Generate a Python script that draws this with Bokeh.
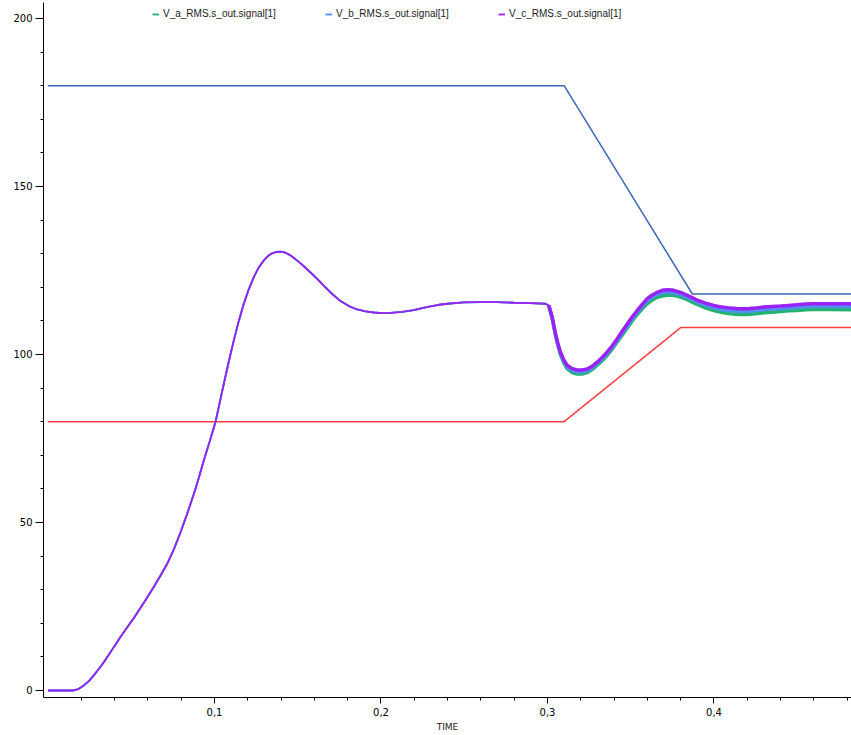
from bokeh.plotting import figure
from bokeh.models import Range1d, FixedTicker, Legend, LegendItem
from bokeh.embed import file_html
from bokeh.resources import INLINE

# Start-up transient, identical on all three phases (time in s, RMS voltage)
rise_time = [0.0, 0.0155, 0.0185, 0.0215, 0.0245, 0.0275, 0.0305, 0.0335, 0.0365, 0.0395,
             0.0435, 0.0476, 0.0516, 0.0556, 0.0595, 0.0635, 0.0676, 0.0716, 0.0756, 0.0796,
             0.0836, 0.0876, 0.0906, 0.0936, 0.0971, 0.1006, 0.1031, 0.1056, 0.1086, 0.1116,
             0.1146, 0.1176, 0.1206, 0.1236, 0.1266, 0.1296, 0.1321, 0.1346, 0.1371, 0.1396,
             0.1426, 0.1456, 0.1486, 0.1517, 0.1547, 0.1577, 0.1617, 0.1656, 0.1707, 0.1757,
             0.1807, 0.1857, 0.1907, 0.1957, 0.2007, 0.2057, 0.2127, 0.2197, 0.2247, 0.2297,
             0.2348, 0.2398, 0.2497, 0.2598, 0.2698, 0.2798, 0.2898, 0.2988]
rise_v = [0.0, 0.0, 0.5, 1.5, 2.8, 4.5, 6.4, 8.4, 10.6, 12.9,
          15.9, 18.8, 21.6, 24.6, 27.6, 30.8, 34.2, 37.7, 42.0, 47.1,
          52.6, 58.5, 63.3, 68.5, 74.1, 79.9, 85.6, 91.3, 97.9, 104.2,
          110.0, 115.1, 119.4, 123.0, 125.9, 128.0, 129.3, 130.1, 130.5, 130.6,
          130.3, 129.5, 128.4, 127.1, 125.8, 124.4, 122.5, 120.5, 118.0, 115.9,
          114.4, 113.4, 112.8, 112.5, 112.3, 112.4, 112.7, 113.2, 113.8, 114.3,
          114.8, 115.1, 115.5, 115.6, 115.6, 115.4, 115.3, 115.1]

# Response to the load step, per phase
step_time = [0.3008, 0.3028, 0.3048, 0.3063, 0.3078, 0.3098, 0.3118, 0.3148, 0.3178, 0.3208,
             0.3238, 0.3268, 0.3298, 0.3328, 0.3358, 0.3389, 0.3419, 0.3449, 0.3479, 0.3509,
             0.3539, 0.3569, 0.3599, 0.3629, 0.3659, 0.3689, 0.3719, 0.3749, 0.3779, 0.3809,
             0.3839, 0.3869, 0.3899, 0.3949, 0.3999, 0.4049, 0.4099, 0.4149, 0.4199, 0.4249,
             0.4299, 0.4349, 0.4399, 0.4449, 0.4499, 0.4549, 0.4599, 0.4699, 0.4850]
step_v_a = [114.5, 110.8, 105.7, 102.6, 100.0, 97.5, 95.8, 94.6, 94.2, 94.2,
            94.6, 95.5, 96.8, 98.1, 99.7, 101.6, 103.7, 105.8, 107.9, 110.0,
            111.9, 113.6, 115.1, 116.2, 117.0, 117.4, 117.6, 117.6, 117.4, 116.9,
            116.3, 115.6, 114.9, 113.9, 113.1, 112.5, 112.1, 111.9, 111.9, 112.1,
            112.4, 112.6, 112.8, 113.0, 113.1, 113.3, 113.4, 113.4, 113.3]
step_v_b = [114.55, 111.0, 106.0, 102.9, 100.4, 98.0, 96.3, 95.2, 94.8, 94.8,
            95.2, 96.0, 97.3, 98.6, 100.2, 102.1, 104.2, 106.4, 108.5, 110.6,
            112.5, 114.3, 115.9, 117.0, 117.8, 118.3, 118.5, 118.4, 118.1, 117.6,
            117.0, 116.3, 115.6, 114.6, 113.9, 113.3, 113.0, 112.8, 112.8, 113.0,
            113.3, 113.5, 113.6, 113.8, 114.0, 114.2, 114.3, 114.3, 114.2]
step_v_c = [114.6, 111.1, 106.2, 103.2, 100.7, 98.4, 96.8, 95.8, 95.4, 95.4,
            95.7, 96.5, 97.7, 99.1, 100.7, 102.6, 104.7, 106.9, 109.1, 111.2,
            113.1, 114.9, 116.6, 117.7, 118.5, 119.1, 119.3, 119.2, 118.8, 118.3,
            117.6, 116.9, 116.2, 115.3, 114.6, 114.1, 113.8, 113.6, 113.6, 113.8,
            114.1, 114.3, 114.4, 114.6, 114.8, 115.0, 115.1, 115.1, 115.1]

# Voltage limit envelopes
upper_time = [0.0, 0.31, 0.387, 0.485]
upper_limit = [180, 180, 118, 118]
lower_time = [0.0, 0.31, 0.38, 0.485]
lower_limit = [80, 80, 108, 108]

series_names = ["V_a_RMS.s_out.signal[1]", "V_b_RMS.s_out.signal[1]", "V_c_RMS.s_out.signal[1]"]
series_colors = ["#22b46e", "#4f8ff0", "#9b22f4"]

x_major = [0.1, 0.2, 0.3, 0.4]
x_labels = ["0,1", "0,2", "0,3", "0,4"]
x_minor = [round(0.02 * i, 2) for i in range(1, 25)]
y_major = [0, 50, 100, 150, 200]
y_minor = list(range(0, 201, 10))

p = figure(width=851, height=735, output_backend="svg", toolbar_location=None,
           x_range=Range1d(-0.0027, 0.4826), y_range=Range1d(-2.09, 204.76),
           min_border_left=43, min_border_right=0, min_border_top=2, min_border_bottom=38)
p.grid.visible = False
p.outline_line_color = None
p.background_fill_color = "white"
p.border_fill_color = "white"

p.line(upper_time, upper_limit, line_color="#3b68b4", line_width=1.5)
p.line(lower_time, lower_limit, line_color="#ff4040", line_width=1.5)

time = rise_time + step_time
legend_items = []
for name, step_v, col in zip(series_names, [step_v_a, step_v_b, step_v_c], series_colors):
    vals = rise_v + step_v
    # the rippled signal after the step reads as a wider band
    p.line(step_time, step_v, line_color=col, line_width=3.5)
    r = p.line(time, vals, line_color=col, line_width=1.8)
    legend_items.append(LegendItem(label=name, renderers=[r]))

legend = Legend(items=legend_items, orientation="horizontal", location=(109, 678),
                glyph_width=7, glyph_height=10, label_standoff=4, label_width=162,
                label_height=10, spacing=0, padding=0, margin=0,
                border_line_color=None, background_fill_alpha=0,
                label_text_font="Liberation Sans", label_text_font_size="10px",
                label_text_color="#222222")
p.add_layout(legend)

xa = p.xaxis[0]
xa.ticker = FixedTicker(ticks=x_major, minor_ticks=x_minor)
xa.major_label_overrides = {t: s for t, s in zip(x_major, x_labels)}
xa.axis_label = "TIME"
xa.axis_label_text_font = "DejaVu Sans"
xa.axis_label_text_font_size = "9px"
xa.axis_label_text_font_style = "normal"
xa.axis_label_text_color = "#222222"
xa.axis_label_standoff = 3
xa.major_label_standoff = 4

ya = p.yaxis[0]
ya.ticker = FixedTicker(ticks=y_major, minor_ticks=y_minor)
ya.major_label_standoff = 3

for ax in (xa, ya):
    ax.axis_line_color = "black"
    ax.major_tick_line_color = "black"
    ax.minor_tick_line_color = "black"
    ax.major_tick_in = 0
    ax.minor_tick_in = 0
    ax.minor_tick_out = 3
    ax.major_label_text_font = "DejaVu Sans"
    ax.major_label_text_font_size = "10px"
    ax.major_label_text_color = "black"
xa.major_tick_out = 6
ya.major_tick_out = 8

open("out.html", "w").write(file_html(p, INLINE))
